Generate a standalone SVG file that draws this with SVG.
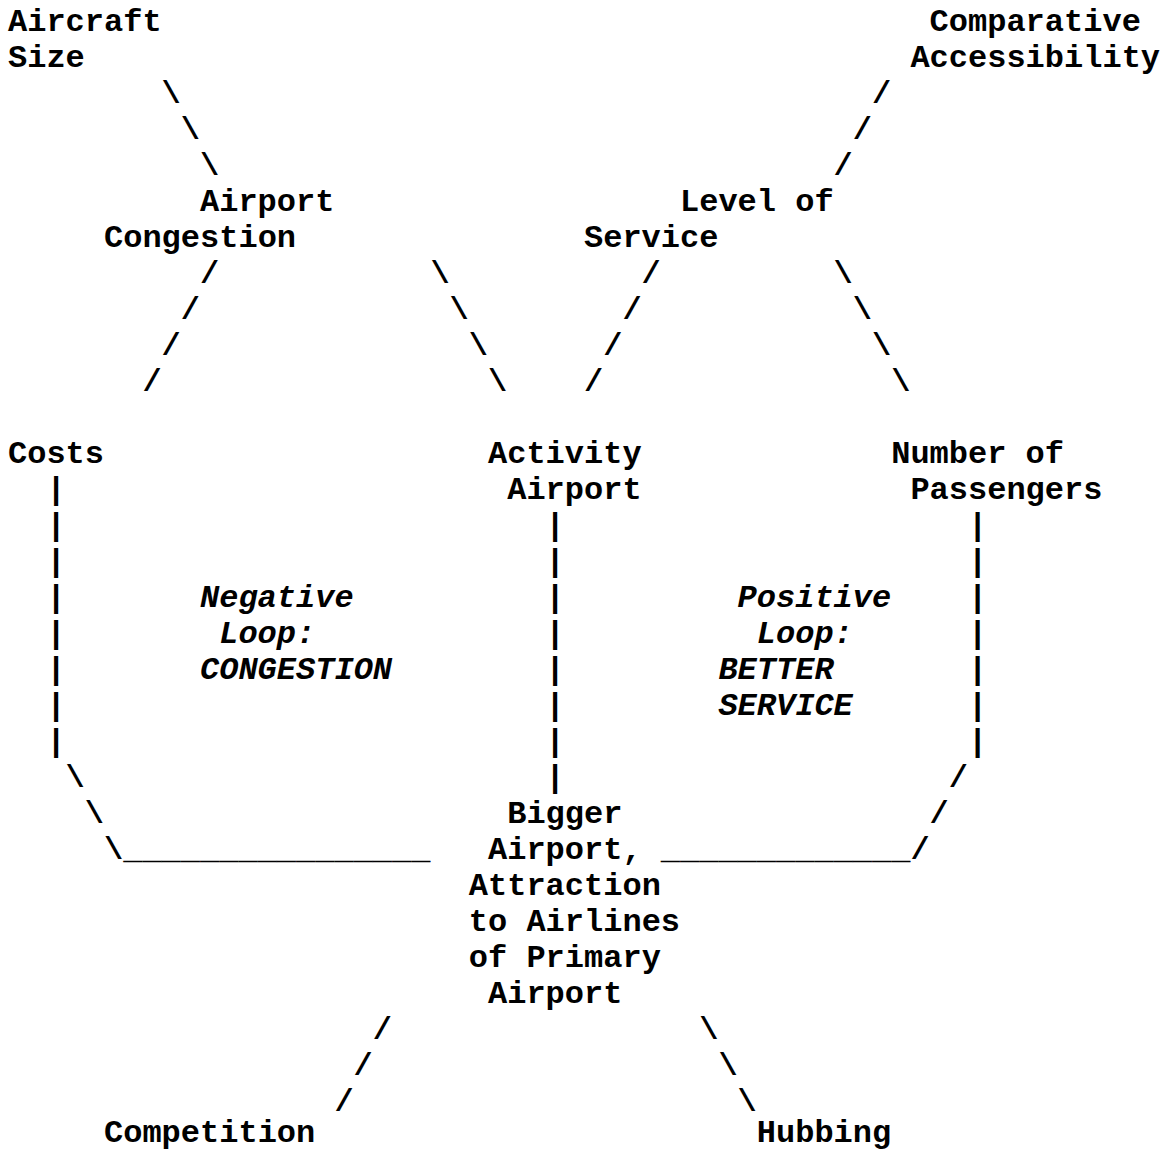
<svg xmlns="http://www.w3.org/2000/svg" width="1171" height="1152" viewBox="0 0 1171 1152">
<style>
text{font-family:"Liberation Mono","Courier New",monospace;font-size:32px;font-weight:bold;fill:#000}
.it{font-style:italic}
</style>
<rect width="1171" height="1152" fill="#fff"/>
<g id="connectors">
<text x="161.6" y="103">\</text><text x="872" y="103">/</text>
<text x="180.8" y="139">\</text><text x="852.8" y="139">/</text>
<text x="200" y="175">\</text><text x="833.6" y="175">/</text>
<text x="200" y="283">/</text><text x="430.4" y="283">\</text><text x="641.6" y="283">/</text><text x="833.6" y="283">\</text>
<text x="180.8" y="319">/</text><text x="449.6" y="319">\</text><text x="622.4" y="319">/</text><text x="852.8" y="319">\</text>
<text x="161.6" y="355">/</text><text x="468.8" y="355">\</text><text x="603.2" y="355">/</text><text x="872" y="355">\</text>
<text x="142.4" y="391">/</text><text x="488" y="391">\</text><text x="584" y="391">/</text><text x="891.2" y="391">\</text>
<text x="46.4" y="499">|</text>
<text x="46.4" y="535">|</text><text x="545.6" y="535">|</text><text x="968" y="535">|</text>
<text x="46.4" y="571">|</text><text x="545.6" y="571">|</text><text x="968" y="571">|</text>
<text x="46.4" y="607">|</text><text x="545.6" y="607">|</text><text x="968" y="607">|</text>
<text x="46.4" y="643">|</text><text x="545.6" y="643">|</text><text x="968" y="643">|</text>
<text x="46.4" y="679">|</text><text x="545.6" y="679">|</text><text x="968" y="679">|</text>
<text x="46.4" y="715">|</text><text x="545.6" y="715">|</text><text x="968" y="715">|</text>
<text x="46.4" y="751">|</text><text x="545.6" y="751">|</text><text x="968" y="751">|</text>
<text x="65.6" y="787">\</text><text x="545.6" y="787">|</text><text x="948.8" y="787">/</text>
<text x="84.8" y="823">\</text><text x="929.6" y="823">/</text>
<text x="104" y="859">\________________</text><text x="660.8" y="859">_____________/</text>
<text x="372.8" y="1039">/</text><text x="699.2" y="1039">\</text>
<text x="353.6" y="1075">/</text><text x="718.4" y="1075">\</text>
<text x="334.4" y="1111">/</text><text x="737.6" y="1111">\</text>
</g>
<g id="aircraft-size"><text x="8" y="31">Aircraft</text><text x="8" y="67">Size</text></g>
<g id="comparative-accessibility"><text x="929.6" y="31">Comparative</text><text x="910.4" y="67">Accessibility</text></g>
<g id="airport-congestion"><text x="200" y="211">Airport</text><text x="104" y="247">Congestion</text></g>
<g id="level-of-service"><text x="680" y="211">Level of</text><text x="584" y="247">Service</text></g>
<g id="costs"><text x="8" y="463">Costs</text></g>
<g id="activity-airport"><text x="488" y="463">Activity</text><text x="507.2" y="499">Airport</text></g>
<g id="number-of-passengers"><text x="891.2" y="463">Number of</text><text x="910.4" y="499">Passengers</text></g>
<g id="negative-loop"><text class="it" x="200" y="607">Negative</text><text class="it" x="219.2" y="643">Loop:</text><text class="it" x="200" y="679">CONGESTION</text></g>
<g id="positive-loop"><text class="it" x="737.6" y="607">Positive</text><text class="it" x="756.8" y="643">Loop:</text><text class="it" x="718.4" y="679">BETTER</text><text class="it" x="718.4" y="715">SERVICE</text></g>
<g id="bigger-airport"><text x="507.2" y="823">Bigger</text><text x="488" y="859">Airport,</text><text x="468.8" y="895">Attraction</text><text x="468.8" y="931">to Airlines</text><text x="468.8" y="967">of Primary</text><text x="488" y="1003">Airport</text></g>
<g id="competition"><text x="104" y="1142">Competition</text></g>
<g id="hubbing"><text x="756.8" y="1142">Hubbing</text></g>
</svg>
